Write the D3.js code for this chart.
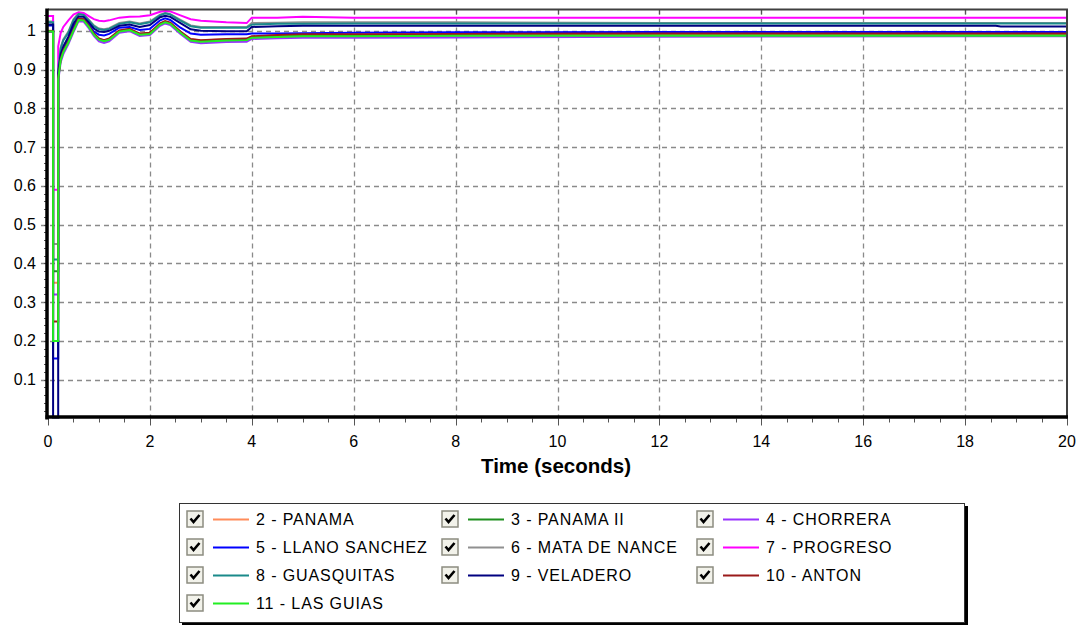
<!DOCTYPE html>
<html>
<head>
<meta charset="utf-8">
<script src="https://cdn.jsdelivr.net/npm/d3@7"></script>
<style>
  html, body { margin: 0; padding: 0; background: #fff; }
  svg { display: block; }
  text { font-family: "Liberation Sans", Arial, sans-serif; fill: #000; }
</style>
</head>
<body>
<svg id="chart" width="1081" height="625"></svg>
<script>
// ---- data ----
const time = [0, 0.1, 0.1, 0.2, 0.2, 0.25, 0.3, 0.4, 0.5, 0.6, 0.7, 0.8, 0.9, 1.0, 1.1, 1.2, 1.4, 1.6, 1.8, 2.0, 2.2, 2.3, 2.4, 2.6, 2.8, 3.0, 3.5, 3.9, 4.0, 4.5, 5.0, 6.0, 8.0, 12.0, 18.6, 18.7, 20];

const panama      = [1.000, 1.000, 0.35, 0.35, 0.882, 0.930, 0.950, 0.974, 1.003, 1.030, 1.029, 1.012, 0.992, 0.979, 0.975, 0.979, 1.000, 1.004, 0.992, 0.994, 1.018, 1.024, 1.020, 0.997, 0.978, 0.975, 0.978, 0.979, 0.985, 0.988, 0.990, 0.990, 0.990, 0.990, 0.990, 0.990, 0.990];
const panamaII    = [0.999, 0.999, 0.38, 0.38, 0.880, 0.929, 0.949, 0.973, 1.002, 1.029, 1.028, 1.011, 0.991, 0.978, 0.974, 0.978, 0.999, 1.003, 0.991, 0.993, 1.017, 1.023, 1.019, 0.996, 0.976, 0.973, 0.976, 0.977, 0.983, 0.985, 0.987, 0.988, 0.988, 0.988, 0.988, 0.988, 0.988];
const chorrera    = [0.997, 0.997, 0.32, 0.32, 0.870, 0.920, 0.940, 0.966, 0.997, 1.025, 1.024, 1.007, 0.987, 0.973, 0.969, 0.973, 0.995, 0.999, 0.987, 0.989, 1.013, 1.019, 1.015, 0.992, 0.972, 0.968, 0.971, 0.972, 0.979, 0.981, 0.982, 0.982, 0.983, 0.985, 0.986, 0.986, 0.986];
const llanoSanchez= [1.014, 1.014, 0.155, 0.155, 0.885, 0.935, 0.955, 0.980, 1.010, 1.030, 1.030, 1.015, 0.998, 0.990, 0.988, 0.992, 1.008, 1.010, 1.002, 1.005, 1.027, 1.032, 1.028, 1.008, 0.993, 0.990, 0.991, 0.991, 0.993, 0.993, 0.994, 0.995, 0.996, 0.997, 0.997, 0.997, 0.997];
const mataDeNance = [1.024, 1.024, 0.45, 0.45, 0.905, 0.958, 0.978, 0.998, 1.030, 1.045, 1.043, 1.029, 1.014, 1.006, 1.004, 1.007, 1.020, 1.024, 1.019, 1.024, 1.042, 1.046, 1.043, 1.028, 1.014, 1.010, 1.010, 1.010, 1.020, 1.021, 1.022, 1.022, 1.022, 1.020, 1.020, 1.020, 1.020];
const progreso    = [1.038, 1.038, 0.59, 0.59, 0.960, 0.995, 1.010, 1.027, 1.042, 1.048, 1.046, 1.038, 1.030, 1.026, 1.025, 1.027, 1.034, 1.036, 1.037, 1.040, 1.049, 1.051, 1.050, 1.040, 1.030, 1.026, 1.022, 1.020, 1.034, 1.034, 1.036, 1.034, 1.034, 1.034, 1.034, 1.034, 1.034];
const guasquitas  = [1.022, 1.022, 0.41, 0.41, 0.900, 0.955, 0.975, 0.995, 1.027, 1.043, 1.041, 1.027, 1.012, 1.004, 1.002, 1.005, 1.018, 1.022, 1.017, 1.022, 1.040, 1.045, 1.042, 1.026, 1.012, 1.008, 1.008, 1.008, 1.016, 1.018, 1.018, 1.019, 1.019, 1.019, 1.019, 1.019, 1.019];
const veladero    = [1.016, 1.016, 0.00, 0.00, 0.890, 0.940, 0.960, 0.985, 1.018, 1.037, 1.036, 1.022, 1.006, 0.998, 0.997, 1.000, 1.013, 1.016, 1.010, 1.015, 1.035, 1.039, 1.036, 1.020, 1.004, 1.000, 0.999, 0.999, 1.010, 1.012, 1.013, 1.013, 1.013, 1.013, 1.013, 1.011, 1.011];
const anton       = [0.999, 0.999, 0.25, 0.25, 0.878, 0.928, 0.948, 0.973, 1.003, 1.031, 1.030, 1.013, 0.993, 0.980, 0.976, 0.980, 1.001, 1.005, 0.993, 0.995, 1.019, 1.025, 1.021, 0.998, 0.979, 0.976, 0.979, 0.980, 0.986, 0.989, 0.991, 0.991, 0.992, 0.993, 0.993, 0.993, 0.993];
const lasGuias    = [0.998, 0.998, 0.20, 0.20, 0.875, 0.925, 0.945, 0.970, 1.000, 1.028, 1.027, 1.010, 0.990, 0.977, 0.973, 0.977, 0.998, 1.002, 0.990, 0.992, 1.016, 1.022, 1.018, 0.995, 0.975, 0.972, 0.975, 0.976, 0.982, 0.984, 0.986, 0.986, 0.987, 0.987, 0.987, 0.987, 0.987];

const seriesNames = ["2 - PANAMA", "3 - PANAMA II", "4 - CHORRERA", "5 - LLANO SANCHEZ", "6 - MATA DE NANCE", "7 - PROGRESO", "8 - GUASQUITAS", "9 - VELADERO", "10 - ANTON", "11 - LAS GUIAS"];
const seriesValues = [panama, panamaII, chorrera, llanoSanchez, mataDeNance, progreso, guasquitas, veladero, anton, lasGuias];
const seriesColors = ["#ff8c5a", "#1f8f1f", "#9933ff", "#0000ff", "#909090", "#ff00ff", "#1a8a8a", "#000080", "#9a1a1a", "#22ee22"];

const xTicks = [0, 2, 4, 6, 8, 10, 12, 14, 16, 18, 20];
const yTicks = [0.1, 0.2, 0.3, 0.4, 0.5, 0.6, 0.7, 0.8, 0.9, 1];
const xTitle = "Time (seconds)";

// ---- layout ----
const svg = d3.select("#chart");
const L = 48, R = 1067, T = 9.5, B = 418.5;
const x = d3.scaleLinear().domain([0, 20]).range([L, R]);
const y = d3.scaleLinear().domain([0, 1.055]).range([B, T]);

// grid
const grid = svg.append("g");
grid.selectAll("line.gx").data(xTicks.filter(d => d > 0 && d < 20)).join("line")
  .attr("x1", d => Math.round(x(d)) + 0.5).attr("x2", d => Math.round(x(d)) + 0.5)
  .attr("y1", T).attr("y2", B)
  .attr("stroke", "#8a8a8a").attr("stroke-width", 1.3).attr("stroke-dasharray", "5,4");
grid.selectAll("line.gy").data(yTicks).join("line")
  .attr("x1", L - 7).attr("x2", R)
  .attr("y1", d => Math.round(y(d)) + 0.5).attr("y2", d => Math.round(y(d)) + 0.5)
  .attr("stroke", "#8a8a8a").attr("stroke-width", 1.3).attr("stroke-dasharray", "5,4");

// minor ticks
const minorX = d3.range(0, 20.001, 0.5);
svg.append("g").selectAll("line").data(minorX).join("line")
  .attr("x1", d => Math.round(x(d)) + 0.5).attr("x2", d => Math.round(x(d)) + 0.5)
  .attr("y1", B).attr("y2", d => (Math.abs(d % 2) < 1e-6) ? B + 7 : B + 4)
  .attr("stroke", "#555").attr("stroke-width", 1);
const minorY = d3.range(0.02, 1.05, 0.02);
svg.append("g").selectAll("line").data(minorY).join("line")
  .attr("x1", L - 4).attr("x2", L)
  .attr("y1", d => Math.round(y(d)) + 0.5).attr("y2", d => Math.round(y(d)) + 0.5)
  .attr("stroke", "#555").attr("stroke-width", 1);
// top border ticks
svg.append("g").selectAll("line").data(xTicks.filter(d => d > 0 && d < 20)).join("line")
  .attr("x1", d => Math.round(x(d)) + 0.5).attr("x2", d => Math.round(x(d)) + 0.5)
  .attr("y1", T).attr("y2", T + 5).attr("stroke", "#555").attr("stroke-width", 1.2);

// lines
const clip = svg.append("clipPath").attr("id", "pc").append("rect")
  .attr("x", L).attr("y", T).attr("width", R - L).attr("height", B - T);
const line = d3.line().x((d, i) => x(time[i])).y(d => y(d)).curve(d3.curveLinear);
const lg = svg.append("g").attr("clip-path", "url(#pc)");
seriesValues.forEach((vals, k) => {
  lg.append("path").datum(vals).attr("d", line)
    .attr("fill", "none").attr("stroke", seriesColors[k]).attr("stroke-width", 2)
    .attr("stroke-linejoin", "miter");
});

// frame
svg.append("line").attr("x1", L).attr("x2", R + 1).attr("y1", T).attr("y2", T)
  .attr("stroke", "#404040").attr("stroke-width", 2);
svg.append("line").attr("x1", R).attr("x2", R).attr("y1", T).attr("y2", B)
  .attr("stroke", "#404040").attr("stroke-width", 2);
svg.append("line").attr("x1", L - 1).attr("x2", L - 1).attr("y1", T - 1).attr("y2", B + 1)
  .attr("stroke", "#000").attr("stroke-width", 3.5);
svg.append("line").attr("x1", L - 2.5).attr("x2", R + 1).attr("y1", B - 1.5).attr("y2", B - 1.5)
  .attr("stroke", "#000").attr("stroke-width", 3.5);

// tick labels
svg.append("g").selectAll("text").data(xTicks).join("text")
  .attr("x", d => x(d)).attr("y", 446.5).attr("text-anchor", "middle")
  .attr("font-size", 16).text(d => d);
svg.append("g").selectAll("text").data(yTicks).join("text")
  .attr("x", 36).attr("y", d => y(d) + 5.5).attr("text-anchor", "end")
  .attr("font-size", 16).text(d => d);

// axis title
svg.append("text").attr("x", 556).attr("y", 473).attr("text-anchor", "middle")
  .attr("font-size", 20.5).attr("font-weight", "bold").text(xTitle);

// legend
const lgd = svg.append("g");
lgd.append("rect").attr("x", 182).attr("y", 506).attr("width", 786).attr("height", 122).attr("fill", "#000");
lgd.append("rect").attr("x", 179.5).attr("y", 503.5).attr("width", 785).attr("height", 119)
  .attr("fill", "#fff").attr("stroke", "#333").attr("stroke-width", 1);
const colX = [187, 442, 697];
const rowY = [519, 547, 575, 603];
seriesNames.forEach((name, k) => {
  const cx = colX[k % 3], cy = rowY[Math.floor(k / 3)];
  const g = lgd.append("g").attr("transform", `translate(${cx},${cy})`);
  g.append("rect").attr("x", 0).attr("y", -8).attr("width", 16).attr("height", 16)
    .attr("fill", "#f2f2ea").attr("stroke", "#8c8c80").attr("stroke-width", 1.5);
  g.append("path").attr("d", "M3.5,-0.5 L6.5,3 L12.5,-4")
    .attr("fill", "none").attr("stroke", "#000").attr("stroke-width", 2.6);
  g.append("line").attr("x1", 26).attr("x2", 62).attr("y1", 0.5).attr("y2", 0.5)
    .attr("stroke", seriesColors[k]).attr("stroke-width", 2);
  g.append("text").attr("x", 69).attr("y", 6).attr("font-size", 16)
    .attr("letter-spacing", 0.9).text(name);
});
</script>
</body>
</html>
